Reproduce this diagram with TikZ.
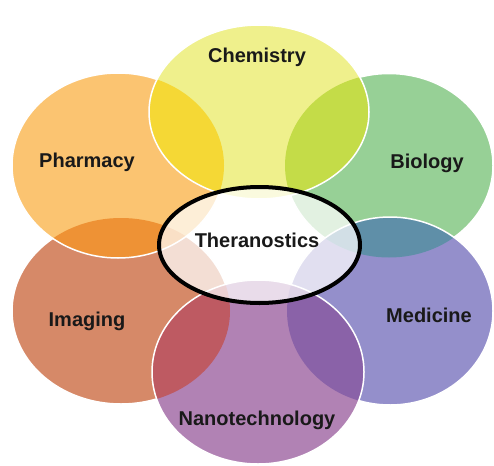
\documentclass[tikz,border=0pt]{standalone}
\usepackage{fontspec}
\setmainfont{Liberation Sans}
\begin{document}
\begin{tikzpicture}[x=1pt, y=-1pt,
	petaltext/.style={anchor=base, inner sep=0pt, font=\fontsize{20}{24}\selectfont\bfseries, text=black!90}]

	% base and overlap colours
	\definecolor{imagingc}{RGB}{214,137,104}
	\definecolor{pharmacyc}{RGB}{251,196,113}
	\definecolor{biologyc}{RGB}{151,208,150}
	\definecolor{chemistryc}{RGB}{239,240,140}
	\definecolor{medicinec}{RGB}{148,143,203}
	\definecolor{nanoc}{RGB}{177,130,180}
	\definecolor{phimc}{RGB}{238,146,53}
	\definecolor{chphc}{RGB}{245,216,53}
	\definecolor{chbic}{RGB}{196,220,72}
	\definecolor{bimec}{RGB}{95,143,168}
	\definecolor{menac}{RGB}{138,98,168}
	\definecolor{naimc}{RGB}{190,90,98}

	% petals: (centre) ellipse [radii]
	\def\imaging{(121,311) ellipse [x radius=109pt, y radius=93pt]}
	\def\pharmacy{(118,165.5) ellipse [x radius=106pt, y radius=92.5pt]}
	\def\biology{(389,165.5) ellipse [x radius=104pt, y radius=92pt]}
	\def\chemistry{(259,112) ellipse [x radius=110pt, y radius=87pt]}
	\def\medicine{(390,311) ellipse [x radius=103pt, y radius=94pt]}
	\def\nano{(258,372) ellipse [x radius=106pt, y radius=92pt]}

	% \drawlens#top#below#fillcolor
	\def\drawlens#1#2#3{
		\begin{scope}
			\clip #1;
			\fill[#3] #2;
		\end{scope}
	}

	% \drawrim#shape
	\def\drawrim#1{\draw[white, line width=1.5pt] #1;}

	% frame
	\clip (0,0) rectangle (494,465);

	% petals, lowest first
	\fill[imagingc] \imaging;
	\drawrim{\imaging}

	\fill[pharmacyc] \pharmacy;
	\drawlens{\pharmacy}{\imaging}{phimc}
	\drawrim{\pharmacy}

	\fill[biologyc] \biology;
	\drawrim{\biology}

	\fill[chemistryc] \chemistry;
	\drawlens{\chemistry}{\pharmacy}{chphc}
	\drawlens{\chemistry}{\biology}{chbic}
	\drawrim{\chemistry}

	\fill[medicinec] \medicine;
	\drawlens{\medicine}{\biology}{bimec}
	\drawrim{\medicine}

	\fill[nanoc] \nano;
	\drawlens{\nano}{\medicine}{menac}
	\drawlens{\nano}{\imaging}{naimc}
	\drawrim{\nano}

	% centre
	\draw[line width=4pt, fill=white, fill opacity=0.72] (259.5,245) ellipse [x radius=100.5pt, y radius=58pt];

	% labels
	\foreach \name/\px/\py in {Chemistry/257/63, Pharmacy/87/167.5, Biology/427/168,
		Theranostics/257/247.5, Imaging/87/326, Medicine/429/322, Nanotechnology/257/425}
		\node[petaltext] (\name) at (\px,\py) {\name};
\end{tikzpicture}
\end{document}
